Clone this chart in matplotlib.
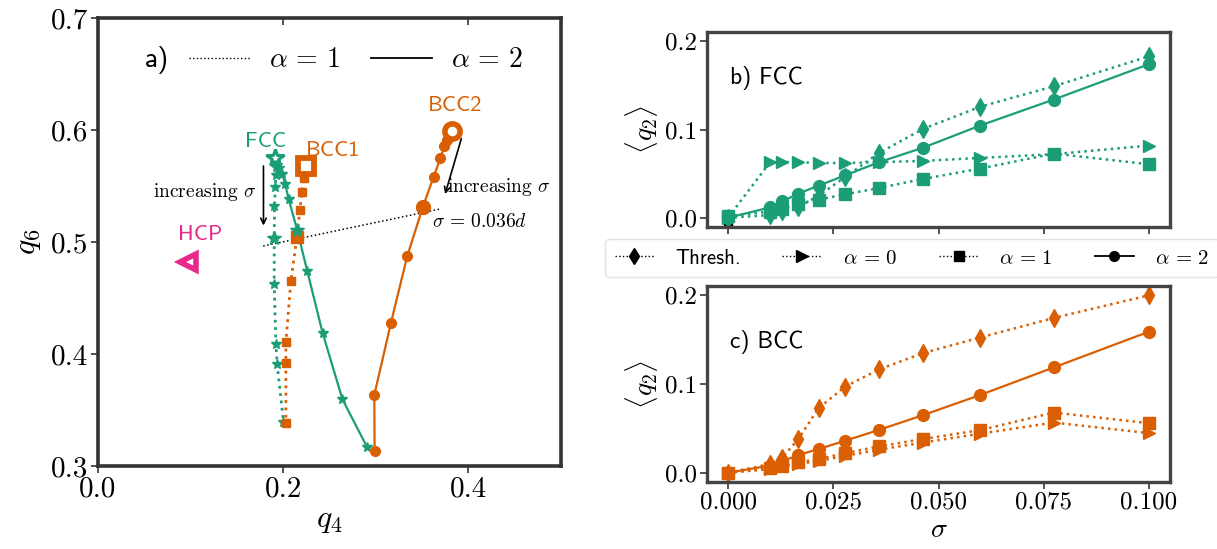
import matplotlib
matplotlib.use("Agg")
import matplotlib.pyplot as plt
from matplotlib.lines import Line2D

plt.rcParams['font.family'] = 'cmr10'
plt.rcParams['mathtext.fontset'] = 'cm'
plt.rcParams['axes.unicode_minus'] = False
plt.rcParams['axes.formatter.use_mathtext'] = False

GREEN = '#1b9e77'
ORANGE = '#d95f02'
MAGENTA = '#e7298a'
SPINE = '#333333'

# ---------------- data: panel a) (q4, q6) ----------------
fcc_a2_q4 = [0.191, 0.193, 0.196, 0.199, 0.202, 0.206, 0.215, 0.226, 0.2425, 0.264, 0.2905]
fcc_a2_q6 = [0.575, 0.569, 0.566, 0.561, 0.552, 0.538, 0.511, 0.474, 0.419, 0.3595, 0.317]
fcc_a1_q4 = [0.191, 0.191, 0.192, 0.192, 0.1914, 0.1906, 0.1903, 0.1903, 0.1921, 0.1935, 0.2003]
fcc_a1_q6 = [0.575, 0.571, 0.567, 0.560, 0.549, 0.532, 0.504, 0.4625, 0.4087, 0.3908, 0.3396]
bcc1_a1_q4 = [0.2246, 0.2235, 0.223, 0.2225, 0.2202, 0.218, 0.2148, 0.2083, 0.2029, 0.2029, 0.2029]
bcc1_a1_q6 = [0.568, 0.565, 0.562, 0.557, 0.545, 0.5286, 0.5042, 0.4652, 0.4104, 0.3917, 0.3381]
bcc2_a2_q4 = [0.3824, 0.380, 0.377, 0.3741, 0.3697, 0.3625, 0.3509, 0.334, 0.3164, 0.2984, 0.2987]
bcc2_a2_q6 = [0.5994, 0.596, 0.591, 0.5857, 0.5747, 0.5583, 0.5315, 0.4875, 0.4279, 0.3634, 0.3134]
hcp_q4 = [0.0976]
hcp_q6 = [0.4824]
sigma_line_q4 = [0.1784, 0.3697]
sigma_line_q6 = [0.4964, 0.5295]
HIGHLIGHT = 6  # index of sigma = 0.036

# ---------------- data: panels b), c) ----------------
sigma = [0.0, 0.0100, 0.0129, 0.0167, 0.0215, 0.0278, 0.0359, 0.0464, 0.0599, 0.0774, 0.1000]
fcc_thresh = [0.0, 0.003, 0.008, 0.012, 0.025, 0.046, 0.0735, 0.1008, 0.1258, 0.149, 0.183]
fcc_a0 = [0.0, 0.063, 0.063, 0.063, 0.062, 0.062, 0.063, 0.0644, 0.0678, 0.072, 0.0818]
fcc_a1 = [0.002, 0.007, 0.010, 0.016, 0.0205, 0.0265, 0.0337, 0.044, 0.0557, 0.0727, 0.0606]
fcc_a2 = [0.0, 0.0117, 0.0185, 0.0273, 0.0364, 0.048, 0.063, 0.0795, 0.1045, 0.134, 0.174]
fcc_black_x = [0.0]
fcc_black_y = [-0.006]

bcc_thresh = [0.0, 0.0097, 0.017, 0.038, 0.0727, 0.097, 0.1165, 0.135, 0.1524, 0.1745, 0.2]
bcc_a0 = [0.0, 0.004, 0.007, 0.010, 0.013, 0.019, 0.026, 0.034, 0.044, 0.0565, 0.0446]
bcc_a1 = [0.0, 0.005, 0.008, 0.0116, 0.0154, 0.022, 0.0296, 0.038, 0.048, 0.0678, 0.0558]
bcc_a2 = [0.0, 0.008, 0.0127, 0.020, 0.0266, 0.036, 0.0483, 0.065, 0.0876, 0.1187, 0.159]

left_xticks = [0.0, 0.2, 0.4]
left_yticks = [0.3, 0.4, 0.5, 0.6, 0.7]
right_xticks = [0.0, 0.025, 0.05, 0.075, 0.1]
right_yticks = [0.0, 0.1, 0.2]

W, H = 1217, 549
fig = plt.figure(figsize=(W / 100, H / 100), dpi=100)
axA = fig.add_axes([98 / W, 1 - 466 / H, (561 - 98) / W, (466 - 18) / H])
axB = fig.add_axes([707 / W, 1 - 227 / H, 463 / W, 195 / H])
axC = fig.add_axes([707 / W, 1 - 482 / H, 463 / W, 196 / H])

SANS = 'cmss10'

# ---------------- panel a ----------------
ax = axA
ax.plot(fcc_a1_q4, fcc_a1_q6, ls=':', lw=2, color=GREEN, marker='*', ms=7, zorder=3)
ax.plot(bcc1_a1_q4, bcc1_a1_q6, ls=':', lw=2, color=ORANGE, marker='s', ms=6, zorder=3)
ax.plot(fcc_a2_q4, fcc_a2_q6, ls='-', lw=1.6, color=GREEN, marker='*', ms=7, zorder=4)
ax.plot(bcc2_a2_q4, bcc2_a2_q6, ls='-', lw=1.6, color=ORANGE, marker='o', ms=7, zorder=4)
# highlighted sigma = 0.036 points
ax.plot([fcc_a1_q4[HIGHLIGHT]], [fcc_a1_q6[HIGHLIGHT]], ls='none', marker='*', ms=10, color=GREEN, zorder=5)
ax.plot([bcc1_a1_q4[HIGHLIGHT]], [bcc1_a1_q6[HIGHLIGHT]], ls='none', marker='s', ms=9, color=ORANGE, zorder=5)
ax.plot([fcc_a2_q4[HIGHLIGHT]], [fcc_a2_q6[HIGHLIGHT]], ls='none', marker='*', ms=10, color=GREEN, zorder=5)
ax.plot([bcc2_a2_q4[HIGHLIGHT]], [bcc2_a2_q6[HIGHLIGHT]], ls='none', marker='o', ms=10, color=ORANGE, zorder=5)
# perfect crystals
ax.plot([fcc_a2_q4[0]], [fcc_a2_q6[0]], ls='none', marker='*', ms=13, mfc='white', mec=GREEN, mew=2.2, zorder=6)
ax.plot([bcc1_a1_q4[0]], [bcc1_a1_q6[0]], ls='none', marker='s', ms=11, mfc='white', mec=ORANGE, mew=4.2, zorder=6)
ax.plot([bcc2_a2_q4[0]], [bcc2_a2_q6[0]], ls='none', marker='o', ms=11, mfc='white', mec=ORANGE, mew=4.0, zorder=6)
ax.plot(hcp_q4, hcp_q6, ls='none', marker='<', ms=12, mfc='white', mec=MAGENTA, mew=4.0, zorder=6)
# sigma line
ax.plot(sigma_line_q4, sigma_line_q6, ls=':', lw=1.1, color='black', zorder=2)

ax.text(0.1805, 0.5896, 'FCC', color=GREEN, family=SANS, fontsize=16, ha='center', va='center')
ax.text(0.254, 0.582, 'BCC1', color=ORANGE, family=SANS, fontsize=16, ha='center', va='center')
ax.text(0.386, 0.6223, 'BCC2', color=ORANGE, family=SANS, fontsize=16, ha='center', va='center')
ax.text(0.110, 0.5063, 'HCP', color=MAGENTA, family=SANS, fontsize=16, ha='center', va='center')
ax.text(0.1157, 0.5446, r'increasing $\sigma$', fontsize=14, ha='center', va='center')
ax.annotate('', xy=(0.1787, 0.5122), xytext=(0.1787, 0.5703),
            arrowprops=dict(arrowstyle='->', color='black', lw=1.2))
ax.text(0.3765, 0.549, r'increasing $\sigma$', fontsize=14, ha='left', va='center')
ax.annotate('', xy=(0.374, 0.5404), xytext=(0.3932, 0.5946),
            arrowprops=dict(arrowstyle='->', color='black', lw=1.2))
ax.text(0.3605, 0.518, r'$\sigma\,=\,0.036d$', fontsize=14, ha='left', va='center')

ax.text(0.1015, 0.906, 'a)', family=SANS, fontsize=20, ha='left', va='center', transform=ax.transAxes)
hA = [Line2D([], [], color='black', ls=':', lw=1.0),
      Line2D([], [], color='black', ls='-', lw=1.3)]
legA = ax.legend(hA, [r'$\alpha\,=\,1$', r'$\alpha\,=\,2$'], ncol=2, frameon=False,
                 loc='center left', bbox_to_anchor=(0.196, 0.906), fontsize=20,
                 handlelength=2.2, handletextpad=0.7, columnspacing=1.1,
                 borderpad=0, borderaxespad=0)

ax.set_xlim(0, 0.5)
ax.set_ylim(0.3, 0.7)
ax.set_xticks(left_xticks)
ax.set_xticklabels([f'{v:.1f}' for v in left_xticks])
ax.set_yticks(left_yticks)
ax.set_yticklabels([f'{v:.1f}' for v in left_yticks])
ax.tick_params(labelsize=21, length=5, width=1.2, color=SPINE, pad=2)
secx = ax.secondary_xaxis('top')
secx.set_xticks(left_xticks)
secx.set_xticklabels([])
secx.tick_params(direction='in', length=5, width=1.2, color=SPINE)
secx.spines['top'].set_visible(False)
ax.set_xlabel(r'$q_4$', fontsize=23, labelpad=4)
ax.set_ylabel(r'$q_6$', fontsize=23, labelpad=6)
for s in ax.spines.values():
    s.set_color(SPINE)
    s.set_linewidth(2.6)

# ---------------- panels b, c ----------------
def panel(ax, thr, a0, a1, a2, color, label, label_y):
    ax.plot(sigma, thr, ls=':', lw=1.8, color=color, marker='d', ms=9)
    ax.plot(sigma, a0, ls=':', lw=1.8, color=color, marker='>', ms=9)
    ax.plot(sigma, a1, ls=':', lw=1.8, color=color, marker='s', ms=8)
    ax.plot(sigma, a2, ls='-', lw=1.6, color=color, marker='o', ms=8.5)
    ax.set_xlim(-0.005, 0.105)
    ax.set_ylim(-0.0105, 0.2105)
    ax.set_xticks(right_xticks)
    ax.set_yticks(right_yticks)
    ax.set_yticklabels([f'{v:.1f}' for v in right_yticks])
    ax.tick_params(labelsize=18, length=5, width=1.2, color=SPINE, pad=2)
    ax.set_ylabel(r'$\langle q_2\rangle$', fontsize=20, labelpad=4)
    ax.text(0.05, label_y, label, family=SANS, fontsize=17, ha='left', va='center',
            transform=ax.transAxes)
    for s in ax.spines.values():
        s.set_color('#444444')
        s.set_linewidth(2.4)

panel(axB, fcc_thresh, fcc_a0, fcc_a1, fcc_a2, GREEN, 'b) FCC', 0.764)
axB.plot(fcc_black_x, fcc_black_y, ls='none', marker='s', ms=6, color='black', zorder=1)
axB.set_xticklabels([])
panel(axC, bcc_thresh, bcc_a0, bcc_a1, bcc_a2, ORANGE, 'c) BCC', 0.716)
axC.set_xticklabels([f'{v:.3f}' for v in right_xticks])
axC.set_xlabel(r'$\sigma$', fontsize=20, labelpad=2)

hR = [Line2D([], [], color='black', ls=':', lw=1.0, marker='d', ms=8),
      Line2D([], [], color='black', ls=':', lw=1.0, marker='>', ms=8),
      Line2D([], [], color='black', ls=':', lw=1.0, marker='s', ms=7),
      Line2D([], [], color='black', ls='-', lw=1.3, marker='o', ms=7)]
legR = fig.legend(hR, ['Thresh.', r'$\alpha\,=\,0$', r'$\alpha\,=\,1$', r'$\alpha\,=\,2$'], ncol=4,
                  loc='center', bbox_to_anchor=(912 / W, 1 - 258 / H),
                  prop={'family': SANS, 'size': 15}, frameon=True, fancybox=True,
                  handlelength=1.9, handletextpad=1.0, columnspacing=2.0,
                  borderpad=0.45)
legR.get_frame().set_edgecolor('#dddddd')
legR.get_frame().set_linewidth(1.0)

fig.savefig('out.png', dpi=100)
